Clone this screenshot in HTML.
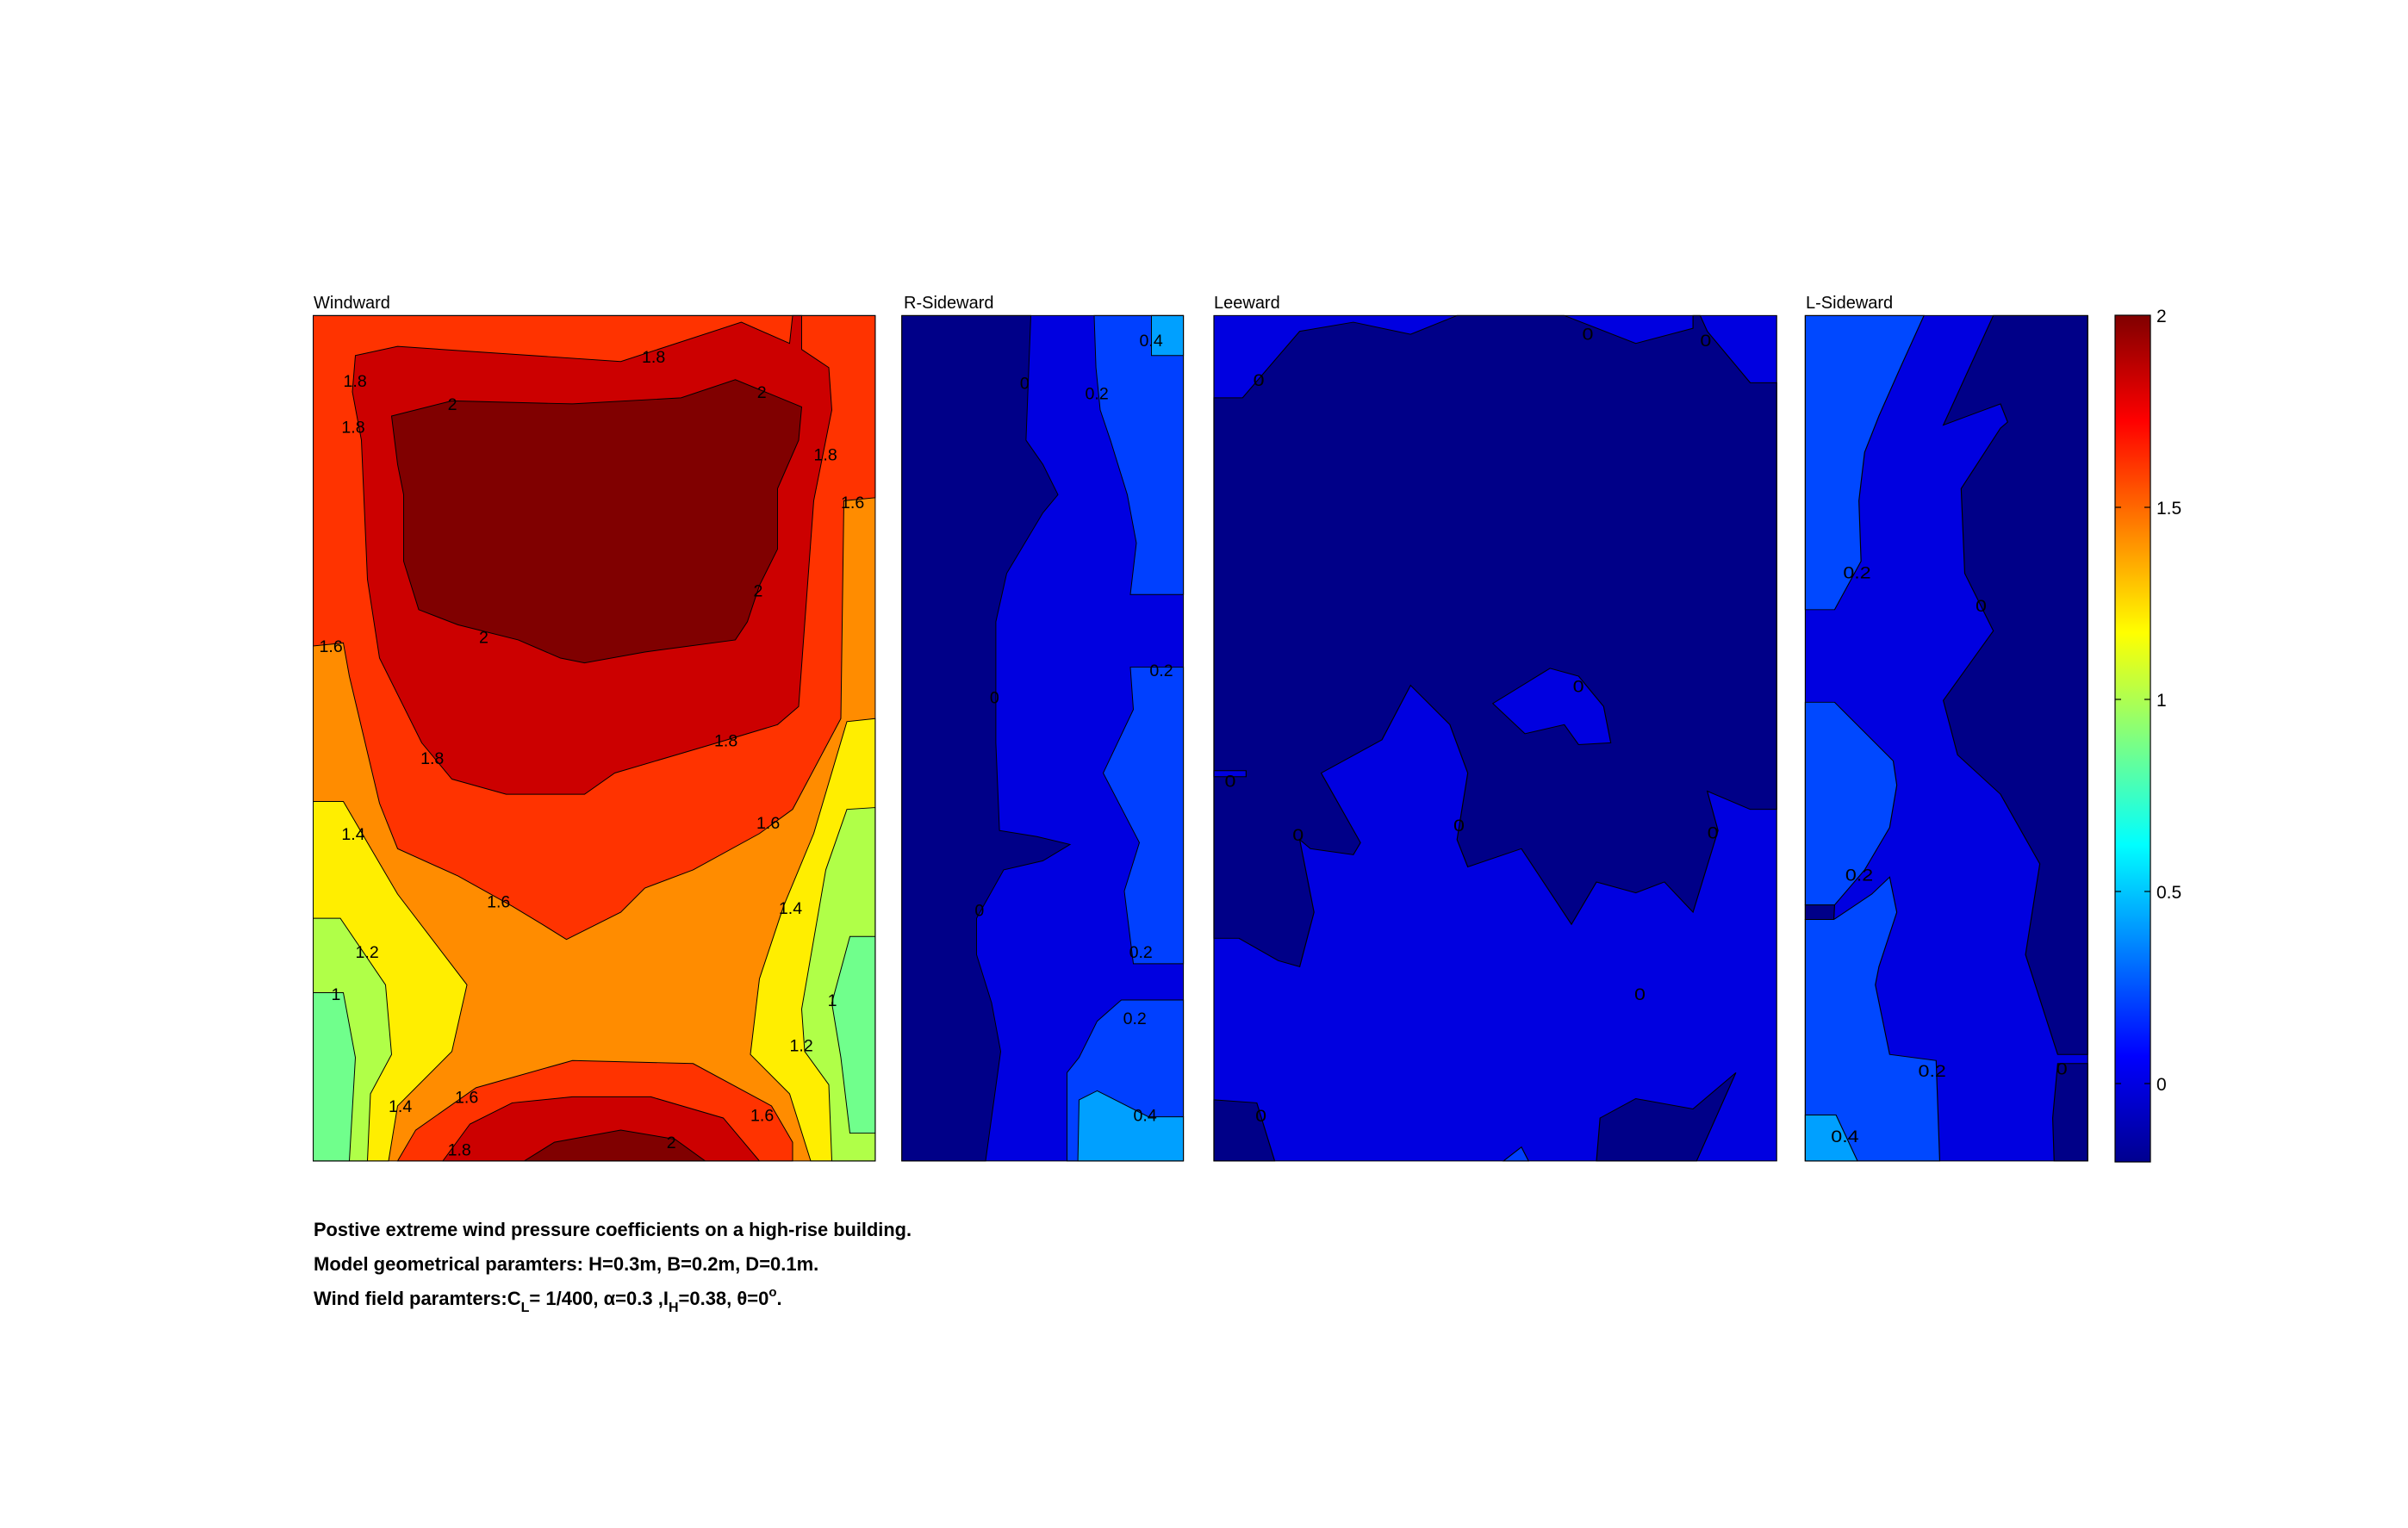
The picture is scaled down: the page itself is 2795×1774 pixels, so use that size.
<!DOCTYPE html>
<html><head><meta charset="utf-8"><style>
html,body{margin:0;padding:0;background:#fff;}
svg{display:block;}
text{font-family:"Liberation Sans",Arial,sans-serif;}
</style></head><body>
<svg width="2795" height="1774" viewBox="0 0 2795 1774" xmlns="http://www.w3.org/2000/svg">
<defs>
<linearGradient id="jet" x1="0" y1="1" x2="0" y2="0">
<stop offset="0" stop-color="#00008f"/>
<stop offset="0.125" stop-color="#0000ff"/>
<stop offset="0.375" stop-color="#00ffff"/>
<stop offset="0.625" stop-color="#ffff00"/>
<stop offset="0.875" stop-color="#ff0000"/>
<stop offset="1" stop-color="#800000"/>
</linearGradient>
</defs>
<g font-size="20" fill="#000">
<text x="364" y="358">Windward</text>
<text x="1049" y="358">R-Sideward</text>
<text x="1409" y="358">Leeward</text>
<text x="2096" y="358">L-Sideward</text>
</g>

<!-- Windward -->
<g transform="translate(300.5,300.3) scale(0.700,0.7026)" stroke="#000" stroke-width="1.4">
<rect x="90" y="94" width="932" height="1397" fill="#ff8c00" stroke="none"/>
<polygon fill="#ff3300" points="90,94 1022,94 1022,395 970,400 965,760 885,910 830,950 720,1010 640,1040 600,1080 510,1125 470,1100 420,1070 330,1020 230,975 200,900 150,690 140,635 90,640"/>
<polygon fill="#ff3300" points="230,1491 260,1440 360,1370 520,1325 720,1330 850,1400 885,1460 885,1491"/>
<polygon fill="#ffee00" points="90,897 140,897 230,1050 345,1200 320,1310 230,1400 215,1491 90,1491"/>
<polygon fill="#ffee00" points="1022,760 975,765 920,950 870,1070 830,1190 815,1315 880,1380 915,1491 1022,1491"/>
<polygon fill="#b0ff48" points="90,1090 135,1090 210,1200 220,1315 185,1380 180,1491 90,1491"/>
<polygon fill="#b0ff48" points="1022,907 975,910 940,1010 900,1240 905,1310 945,1365 950,1491 1022,1491"/>
<polygon fill="#70ff8c" points="90,1213 140,1213 160,1320 150,1491 90,1491"/>
<polygon fill="#70ff8c" points="1022,1120 980,1120 950,1230 965,1320 980,1445 1022,1445"/>
<polygon fill="#cc0000" points="160,160 230,145 600,170 800,105 880,140 885,94 900,94 900,150 945,180 950,250 920,400 895,740 860,770 760,800 590,850 540,885 410,885 320,860 270,800 200,660 180,530 170,300 155,220"/>
<polygon fill="#cc0000" points="305,1491 350,1430 420,1395 520,1385 650,1385 770,1420 830,1491"/>
<polygon fill="#800000" points="220,260 320,235 520,240 700,230 790,200 900,245 895,300 860,380 860,480 830,540 810,600 790,630 640,650 540,668 500,660 430,630 330,605 265,580 240,500 240,390 230,340"/>
<polygon fill="#800000" points="440,1491 490,1460 600,1440 690,1455 740,1491"/>
<rect x="90" y="94" width="932" height="1397" fill="none" stroke="#000" stroke-width="1.4"/>
<g font-size="28" stroke="none" fill="#000">
<text x="635" y="172">1.8</text><text x="140" y="212">1.8</text><text x="137" y="288">1.8</text>
<text x="313" y="250">2</text><text x="826" y="230">2</text><text x="920" y="333">1.8</text>
<text x="965" y="412">1.6</text><text x="820" y="558">2</text><text x="365" y="635">2</text>
<text x="100" y="650">1.6</text><text x="268" y="835">1.8</text><text x="755" y="806">1.8</text>
<text x="825" y="942">1.6</text><text x="137" y="960">1.4</text><text x="378" y="1072">1.6</text>
<text x="862" y="1083">1.4</text><text x="160" y="1155">1.2</text><text x="120" y="1225">1</text>
<text x="943" y="1235">1</text><text x="880" y="1310">1.2</text><text x="215" y="1410">1.4</text>
<text x="325" y="1395">1.6</text><text x="815" y="1425">1.6</text><text x="313" y="1482">1.8</text>
<text x="676" y="1470">2</text>
</g>
</g>

<!-- R-Sideward -->
<g transform="translate(300.5,300.3) scale(0.700,0.7026)" stroke="#000" stroke-width="1.4">
<rect x="1066" y="94" width="467" height="1397" fill="#0000e0" stroke="none"/>
<polygon fill="#000088" points="1066,94 1280,94 1272,300 1300,340 1325,390 1300,420 1240,520 1222,600 1222,800 1228,945 1290,955 1345,968 1300,995 1235,1010 1190,1090 1190,1150 1215,1230 1230,1310 1205,1491 1066,1491"/>
<polygon fill="#0040ff" points="1385,94 1533,94 1533,555 1445,555 1455,470 1440,390 1412,300 1395,250 1388,180"/>
<polygon fill="#0040ff" points="1533,675 1445,675 1450,745 1400,850 1460,965 1435,1045 1450,1165 1533,1165"/>
<polygon fill="#0040ff" points="1533,1225 1430,1225 1390,1260 1360,1320 1340,1345 1340,1491 1533,1491"/>
<polygon fill="#00a0ff" points="1480,94 1533,94 1533,160 1480,160"/>
<polygon fill="#00a0ff" points="1533,1418 1475,1418 1390,1375 1360,1390 1358,1491 1533,1491"/>
<rect x="1066" y="94" width="467" height="1397" fill="none"/>
<g font-size="28" stroke="none" fill="#000">
<text x="1460" y="145">0.4</text><text x="1262" y="215">0</text><text x="1370" y="232">0.2</text>
<text x="1477" y="690">0.2</text><text x="1212" y="735">0</text><text x="1187" y="1086">0</text>
<text x="1443" y="1155">0.2</text><text x="1433" y="1265">0.2</text><text x="1450" y="1425">0.4</text>
</g>
</g>

<!-- Leeward and L-Sideward -->
<g transform="translate(1400.7,300.3) scale(0.83,0.7026)" stroke="#000" stroke-width="1.4">
<rect x="10" y="94" width="787" height="1397" fill="#0000e0" stroke="none"/>
<polygon fill="#000088" points="10,230 50,230 130,120 205,105 285,125 350,94 500,94 600,140 680,115 680,94 690,94 700,120 760,205 797,205 797,910 760,910 700,880 715,945 680,1080 640,1030 600,1048 545,1030 510,1100 440,975 365,1005 350,960 365,850 340,770 285,705 245,795 160,850 215,965 205,985 145,975 130,960 150,1080 130,1170 100,1160 45,1123 10,1123"/>
<polygon fill="#0000e0" points="400,735 480,677 520,690 555,740 565,800 520,803 500,770 445,785"/>
<polygon fill="#0000e0" points="10,846 55,846 55,856 10,856"/>
<polygon fill="#000088" points="10,1390 70,1395 95,1491 10,1491"/>
<polygon fill="#000088" points="545,1491 550,1420 600,1388 680,1405 740,1345 685,1491"/>
<polygon fill="#0040ff" points="415,1491 440,1468 450,1491"/>
<rect x="10" y="94" width="787" height="1397" fill="none"/>

<rect x="837" y="94" width="395" height="1397" fill="#0000e0" stroke="none"/>
<polygon fill="#0048ff" points="837,94 1003,94 970,180 940,260 920,320 912,400 915,500 878,580 837,580"/>
<polygon fill="#0048ff" points="837,733 878,733 960,830 965,870 955,940 920,1010 878,1068 837,1068"/>
<polygon fill="#000088" points="837,1068 878,1068 877,1092 837,1092"/>
<polygon fill="#0048ff" points="837,1092 877,1092 930,1050 955,1022 965,1080 940,1170 935,1200 955,1315 1020,1325 1025,1491 837,1491"/>
<polygon fill="#00a0ff" points="837,1415 880,1415 910,1491 837,1491"/>
<polygon fill="#000088" points="1100,94 1232,94 1232,1315 1190,1315 1145,1150 1165,1000 1110,885 1050,820 1030,730 1100,615 1060,520 1055,380 1110,280 1120,270 1110,240 1030,275"/>
<polygon fill="#000088" points="1190,1330 1232,1330 1232,1491 1185,1491 1183,1420"/>
<rect x="837" y="94" width="395" height="1397" fill="none"/>
<g font-size="28" stroke="none" fill="#000">
<text x="65" y="210">0</text><text x="525" y="134">0</text><text x="690" y="145">0</text>
<text x="512" y="716">0</text><text x="25" y="873">0</text><text x="120" y="962">0</text>
<text x="345" y="946">0</text><text x="700" y="958">0</text><text x="598" y="1225">0</text>
<text x="68" y="1426">0</text>
<text x="890" y="528">0.2</text><text x="1075" y="583">0</text><text x="893" y="1028">0.2</text>
<text x="995" y="1352">0.2</text><text x="1188" y="1348">0</text><text x="873" y="1460">0.4</text>
</g>
</g>

<!-- colorbar -->
<rect x="2455" y="366" width="41" height="983" fill="url(#jet)" stroke="#000" stroke-width="1.2"/>
<g stroke="#000" stroke-width="1.2">
<line x1="2455" y1="589" x2="2462" y2="589"/><line x1="2489" y1="589" x2="2496" y2="589"/>
<line x1="2455" y1="812" x2="2462" y2="812"/><line x1="2489" y1="812" x2="2496" y2="812"/>
<line x1="2455" y1="1035" x2="2462" y2="1035"/><line x1="2489" y1="1035" x2="2496" y2="1035"/>
<line x1="2455" y1="1258" x2="2462" y2="1258"/><line x1="2489" y1="1258" x2="2496" y2="1258"/>
</g>
<g font-size="21" fill="#000">
<text x="2503" y="374">2</text><text x="2503" y="597">1.5</text><text x="2503" y="820">1</text>
<text x="2503" y="1043">0.5</text><text x="2503" y="1266">0</text>
</g>

<g font-size="22" font-weight="bold" fill="#000">
<text x="364" y="1435" textLength="694" lengthAdjust="spacingAndGlyphs">Postive extreme  wind pressure coefficients on a high-rise building.</text>
<text x="364" y="1475">Model geometrical paramters: H=0.3m, B=0.2m, D=0.1m.</text>
<text x="364" y="1515">Wind field paramters:C<tspan font-size="16" dy="8">L</tspan><tspan dy="-8">= 1/400, α=0.3 ,I</tspan><tspan font-size="16" dy="8">H</tspan><tspan dy="-8">=0.38, θ=0</tspan><tspan font-size="15" dy="-10">o</tspan><tspan dy="10">.</tspan></text>
</g>
</svg>
</body></html>
